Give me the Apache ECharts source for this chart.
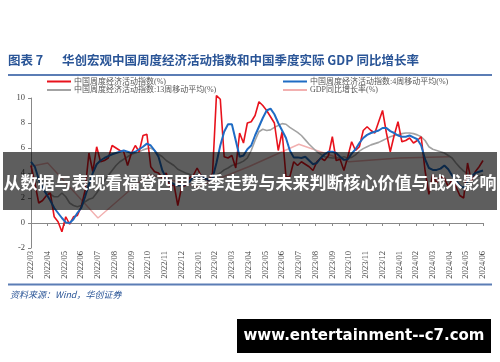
<!DOCTYPE html>
<html><head><meta charset="utf-8">
<script src="https://cdn.jsdelivr.net/npm/echarts@6/dist/echarts.min.js"></script>
<style>html,body{margin:0;padding:0;background:#fff}#c{width:500px;height:362px}</style>
</head><body><div id="c"></div>
<script>
// Month tick labels (x axis, one per month starting 2022/03)
const monthLabels = ['2022/03','2022/04','2022/05','2022/06','2022/07','2022/08','2022/09','2022/10','2022/11','2022/12',
  '2023/01','2023/02','2023/03','2023/04','2023/05','2023/06','2023/07','2023/08','2023/09','2023/10','2023/11','2023/12',
  '2024/01','2024/02','2024/03','2024/04','2024/05','2024/06'];
const yTicks = [-2, 0, 2, 4, 6, 8, 10];

// Weekly series, starting first week of 2022/03
const weeklyIndex = [4.6,3.2,1.6,1.8,2.2,2.4,0.5,0.1,-0.7,0.5,-0.1,0.5,0.6,1.3,2.6,5.6,4.1,6.1,4.9,5.0,
  5.2,6.2,6.0,5.8,5.7,4.6,5.6,6.2,5.7,7.0,7.1,4.5,4.1,4.0,3.6,4.0,2.9,3.1,1.4,2.9,
  3.0,3.6,3.8,4.4,3.8,3.6,3.4,4.0,10.2,9.9,5.3,5.2,5.4,4.4,7.2,6.4,8.0,8.1,8.6,9.7,
  9.4,9.0,8.5,8.0,5.8,7.3,3.7,3.7,4.9,4.6,4.9,4.7,4.5,4.2,4.9,5.2,5.0,5.4,6.9,5.0,
  5.1,4.2,5.3,6.5,5.8,6.1,7.4,7.7,7.4,7.2,8.1,9.0,7.2,5.7,7.0,8.1,6.5,6.6,6.8,6.4,
  6.6,6.9,4.2,2.3,3.9,3.2,3.7,3.6,2.9,3.5,2.9,2.2,2.0,4.8,3.3,4.1,4.5,5.0];
const weeklyMA4 = [4.9,4.5,3.5,2.8,2.3,1.8,1.2,0.8,0.4,0.05,0.0,0.3,0.8,1.2,2.1,3.1,4.0,4.7,5.0,5.2,
  5.35,5.5,5.6,5.7,5.8,5.7,5.6,5.7,5.9,6.1,6.35,6.2,5.8,5.3,4.2,3.6,3.3,3.1,3.0,3.0,
  3.1,3.3,3.7,3.8,3.8,3.6,3.45,3.6,4.8,6.2,7.3,7.9,7.9,6.6,5.3,5.4,5.9,6.2,7.0,7.7,
  8.4,9.0,9.15,8.7,8.0,7.4,6.8,5.8,5.25,5.25,5.2,5.3,5.0,4.7,4.8,5.2,5.5,5.7,5.7,5.6,
  5.3,5.05,5.1,5.55,5.9,6.4,6.8,7.05,7.2,7.3,7.4,7.6,7.6,7.35,7.2,7.0,6.9,6.9,7.0,6.85,
  6.7,6.2,5.1,4.4,4.25,4.25,4.35,4.6,4.3,3.8,3.4,3.0,2.8,3.3,3.7,4.0,4.1,4.2];
const weeklyMA13 = [3.8,3.5,3.1,2.8,2.5,2.3,2.1,2.1,2.4,2.1,1.6,1.4,1.3,1.4,1.7,1.9,2.0,2.4,2.9,3.4,
  3.8,4.2,4.6,4.9,5.1,5.3,5.5,5.6,5.7,5.85,5.95,6.0,5.8,5.5,5.3,5.0,4.8,4.6,4.3,4.15,
  4.0,3.9,3.75,3.65,3.6,3.5,3.45,3.6,3.85,4.0,4.25,4.4,4.6,4.7,4.8,4.95,5.2,5.8,6.6,7.3,
  7.5,7.4,7.45,7.65,7.8,7.95,7.9,7.65,7.45,7.25,7.0,6.65,6.3,6.0,5.7,5.5,5.3,5.25,5.2,5.2,
  5.2,5.3,5.2,5.25,5.45,5.75,5.95,6.1,6.25,6.35,6.45,6.6,6.75,6.9,7.0,7.05,7.15,7.2,7.2,7.15,
  7.05,6.9,6.6,6.1,5.9,5.8,5.7,5.6,5.4,5.2,4.8,4.45,4.15,3.95,3.8,3.7,3.75,3.85];

// Quarterly real GDP growth (%)
const gdpQuarters = ['2021Q4','2022Q1','2022Q2','2022Q3','2022Q4','2023Q1','2023Q2','2023Q3','2023Q4','2024Q1'];
const gdpValues   = [4.0, 4.8, 0.4, 3.9, 2.9, 4.5, 6.3, 4.9, 5.2, 5.3];

const seriesNames = ['中国周度经济活动指数(%)','中国周度经济活动指数:4周移动平均(%)','中国周度经济活动指数:13周移动平均(%)','GDP同比增长率(%)'];

function weekToMonth(i){ return i * 12 / 52; }
function quarterToMonth(q){ const y = +q.slice(0,4), n = +q.slice(5); return (y-2022)*12 + n*3 - 2; }
const toPairs = arr => arr.map((v,i)=>[weekToMonth(i), v]);

const chart = echarts.init(document.getElementById('c'), null, {renderer:'canvas'});
const serif = '"Liberation Serif", "Noto Sans CJK SC", serif';
const lineCol = '#5b7db5';
chart.setOption({
  animation:false,
  backgroundColor:'#fff',
  title:{text:'图表 7', left:8, top:54, padding:0,
    textStyle:{fontFamily:'"Noto Sans CJK SC"', fontWeight:'bold', fontSize:12.5, color:'#2a5597'}},
  legend:[
    {data:[seriesNames[0], seriesNames[2]], left:47, top:77.5, orient:'vertical', padding:0, itemGap:0.5,
     itemWidth:24, itemHeight:2, icon:'rect', textStyle:{fontSize:8, color:'#555', fontFamily:serif, padding:[0,0,0,-2]}},
    {data:[seriesNames[1], seriesNames[3]], left:283, top:77.5, orient:'vertical', padding:0, itemGap:0.5,
     itemWidth:24, itemHeight:2, icon:'rect', textStyle:{fontSize:8, color:'#555', fontFamily:serif, padding:[0,0,0,-2]}}
  ],
  grid:{left:31, right:17, top:98, bottom:114},
  xAxis:[
    {type:'value', min:0, max:monthLabels.length-1, interval:1, position:'bottom',
     axisLine:{show:false, onZero:false}, axisTick:{show:false}, splitLine:{show:false},
     axisLabel:{rotate:90, margin:3, fontSize:8.5, color:'#444', fontFamily:serif,
       formatter:v=>monthLabels[Math.round(v)] || ''}},
    {type:'value', min:0, max:monthLabels.length-1, interval:1, position:'bottom',
     axisLine:{show:true, onZero:true, lineStyle:{color:'#888', width:1}},
     axisTick:{show:true, length:3, lineStyle:{color:'#888'}}, axisLabel:{show:false}, splitLine:{show:false}}
  ],
  yAxis:{type:'value', min:yTicks[0], max:yTicks[yTicks.length-1], interval:2,
    axisLine:{show:true, lineStyle:{color:'#888'}}, axisTick:{show:true, length:3, lineStyle:{color:'#888'}},
    splitLine:{show:false}, axisLabel:{margin:6, fontSize:8.5, color:'#444', fontFamily:serif}},
  series:[
    {name:seriesNames[0], type:'line', data:toPairs(weeklyIndex), showSymbol:false, clip:false, z:3,
     lineStyle:{color:'#e8121c', width:1.6}, itemStyle:{color:'#e8121c'}},
    {name:seriesNames[1], type:'line', data:toPairs(weeklyMA4), showSymbol:false, z:5,
     lineStyle:{color:'#1f6cc4', width:2}, itemStyle:{color:'#1f6cc4'}},
    {name:seriesNames[2], type:'line', data:toPairs(weeklyMA13), showSymbol:false, z:2,
     lineStyle:{color:'#a3a3a3', width:1.6}, itemStyle:{color:'#a3a3a3'}},
    {name:seriesNames[3], type:'line', data:gdpQuarters.map((q,i)=>[quarterToMonth(q), gdpValues[i]]), showSymbol:false, z:1,
     lineStyle:{color:'#f2b0b0', width:1.4}, itemStyle:{color:'#f2b0b0'}}
  ],
  graphic:[
    {type:'text', left:62, top:54, style:{text:'华创宏观中国周度经济活动指数和中国季度实际 GDP 同比增长率',
      font:'bold 12.5px "Noto Sans CJK SC"', fill:'#2a5597'}},
    {type:'rect', shape:{x:8, y:74, width:484, height:2}, style:{fill:lineCol}},
    {type:'rect', shape:{x:8, y:283.5, width:484, height:2}, style:{fill:lineCol}},
    {type:'text', left:10, top:290, style:{text:'资料来源：Wind，华创证券', font:'italic 9px "Noto Sans CJK SC"', fill:'#2a5597'}},
    {type:'rect', shape:{x:3, y:152, width:494, height:58}, style:{fill:'rgba(0,0,0,0.63)'}, z:100},
    {type:'text', x:250, y:183, z:101, style:{text:'从数据与表现看福登西甲赛季走势与未来判断核心价值与战术影响',
      font:'bold 17px "Noto Sans CJK SC"', fill:'#fff', align:'center', verticalAlign:'middle'}},
    {type:'rect', shape:{x:237, y:319, width:254, height:34}, style:{fill:'#000'}, z:100},
    {type:'text', x:364, y:336.5, z:101, style:{text:'www.entertainment--c7.com',
      font:'bold 15px "DejaVu Sans"', fill:'#fff', align:'center', verticalAlign:'middle'}}
  ]
});
</script></body></html>
